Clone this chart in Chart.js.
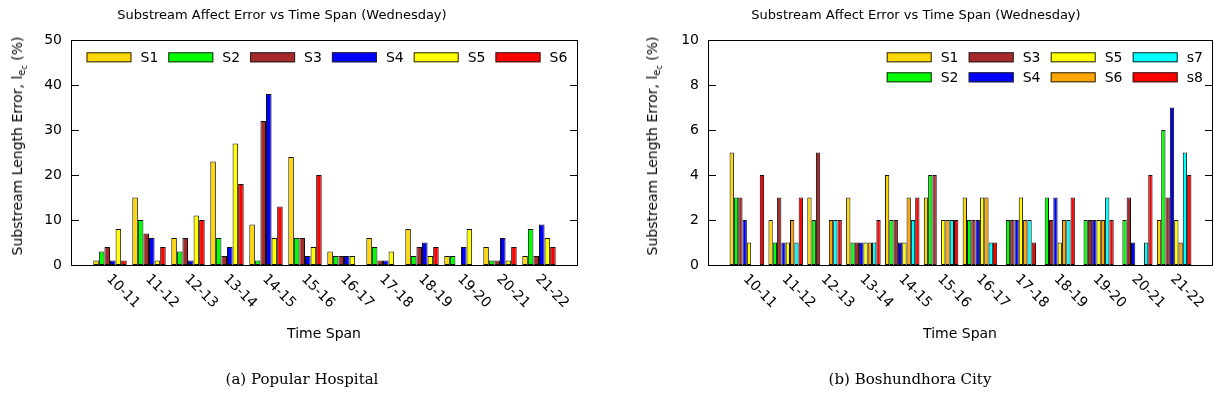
<!DOCTYPE html>
<html>
<head>
<meta charset="utf-8">
<script src="https://cdn.jsdelivr.net/npm/chart.js@4.4.1/dist/chart.umd.min.js"></script>
<style>
  html, body { margin: 0; padding: 0; background: #fff; }
  #wrap { position: relative; width: 1215px; height: 406px; overflow: hidden; background: #fff; }
  canvas { position: absolute; top: 0; }
  .t { position: absolute; white-space: nowrap; color: #000; font-family: "DejaVu Sans", sans-serif; }
  .title { font-size: 13px; transform: translate(-50%, -50%); }
  .xlab { font-size: 14px; transform: translate(-50%, -50%); }
  .ylab { font-size: 14px; transform: translate(-50%, -50%) rotate(-90deg); }
  .ylab sub { font-size: 10px; vertical-align: -3px; }
  .ylab sub sub { font-size: 8px; vertical-align: -2px; }
  .cap { font-family: "DejaVu Serif", serif; font-size: 15px; transform: translate(-50%, -50%); }
</style>
</head>
<body>
<div id="wrap">
  <canvas id="c1" width="600" height="406" style="left:0px"></canvas>
  <canvas id="c2" width="608" height="406" style="left:607px"></canvas>
  <div class="t title" style="left:282px; top:14px">Substream Affect Error vs Time Span (Wednesday)</div>
  <div class="t title" style="left:916px; top:14px">Substream Affect Error vs Time Span (Wednesday)</div>
  <div class="t ylab" style="left:19px; top:146px">Substream Length Error, l<sub>e<sub>c</sub></sub> (%)</div>
  <div class="t ylab" style="left:654px; top:146px">Substream Length Error, l<sub>e<sub>c</sub></sub> (%)</div>
  <div class="t xlab" style="left:324px; top:333px">Time Span</div>
  <div class="t xlab" style="left:960px; top:333px">Time Span</div>
  <div class="t cap" style="left:302px; top:379px">(a) Popular Hospital</div>
  <div class="t cap" style="left:910px; top:379px">(b) Boshundhora City</div>
</div>
<script>
// ---- data ----
const categories = ['10-11','11-12','12-13','13-14','14-15','15-16','16-17','17-18','18-19','19-20','20-21','21-22'];

// (a) Popular Hospital
const hospitalLabels = ['S1','S2','S3','S4','S5','S6'];
const hS1 = [1, 15, 6, 23, 9, 24, 3, 6, 8, 2, 4, 2];
const hS2 = [3, 10, 3, 6, 1, 6, 2, 4, 2, 2, 1, 8];
const hS3 = [4, 7, 6, 2, 32, 6, 2, 1, 4, 0, 1, 2];
const hS4 = [1, 6, 1, 4, 38, 2, 2, 1, 5, 4, 6, 9];
const hS5 = [8, 1, 11, 27, 6, 4, 2, 3, 2, 8, 1, 6];
const hS6 = [1, 4, 10, 18, 13, 20, 0, 0, 4, 0, 4, 4];
const hospitalTicks = [0, 10, 20, 30, 40, 50];

// (b) Boshundhora City
const cityLabels = ['S1','S2','S3','S4','S5','S6','s7','s8'];
const bS1 = [5, 2, 3, 3, 4, 3, 3, 0, 0, 0, 0, 2];
const bS2 = [3, 1, 2, 1, 2, 4, 2, 2, 3, 2, 2, 6];
const bS3 = [3, 3, 5, 1, 2, 4, 2, 2, 2, 2, 3, 3];
const bS4 = [2, 1, 0, 1, 1, 0, 2, 2, 3, 2, 1, 7];
const bS5 = [1, 1, 0, 1, 1, 2, 3, 3, 1, 2, 0, 2];
const bS6 = [0, 2, 2, 1, 3, 2, 3, 2, 2, 2, 0, 1];
const bS7 = [0, 1, 2, 1, 2, 2, 1, 2, 2, 3, 1, 5];
const bS8 = [4, 3, 2, 2, 3, 2, 1, 1, 3, 2, 4, 4];
const cityTicks = [0, 2, 4, 6, 8, 10];

// ---- styling ----
const GOLD = '#ffd700', GREEN = '#00ff00', BROWN = '#a52a2a', BLUE = '#0000ff',
      YELLOW = '#ffff00', RED = '#ff0000', ORANGE = '#ffa500', CYAN = '#00ffff';
const hospitalColors = [GOLD, GREEN, BROWN, BLUE, YELLOW, RED];
const cityColors = [GOLD, GREEN, BROWN, BLUE, YELLOW, ORANGE, CYAN, RED];

Chart.defaults.font.family = '"DejaVu Sans", sans-serif';
Chart.defaults.font.size = 14;
Chart.defaults.color = '#000';

function toPoints(arr) { return arr.map((v, i) => ({ x: i, y: v })); }

function makeDatasets(series, labels, colors) {
  return series.map((s, i) => ({
    label: labels[i],
    data: toPoints(s),
    backgroundColor: colors[i],
    borderColor: '#111',
    borderWidth: 1,
    borderSkipped: false
  }));
}

// plugin: frame, inward ticks, rotated category labels, legend inside plot
const decor = {
  id: 'decor',
  afterDatasetsDraw(chart, args, opts) {
    const ctx = chart.ctx;
    const a = chart.chartArea;
    const xs = chart.scales.x, ys = chart.scales.y;
    ctx.save();
    ctx.strokeStyle = '#000';
    ctx.lineWidth = 1;
    ctx.beginPath();
    opts.yTicks.forEach(v => {
      const y = Math.round(ys.getPixelForValue(v)) + 0.5;
      ctx.moveTo(a.left, y); ctx.lineTo(a.left + 8, y);
      ctx.moveTo(a.right, y); ctx.lineTo(a.right - 8, y);
    });
    ctx.stroke();
    ctx.strokeRect(Math.round(a.left) + 0.5, Math.round(a.top) + 0.5,
                   Math.round(a.right - a.left) - 1, Math.round(a.bottom - a.top));
    ctx.fillStyle = '#000';
    ctx.font = '14px "DejaVu Sans", sans-serif';
    ctx.textAlign = 'left';
    ctx.textBaseline = 'middle';
    categories.forEach((c, i) => {
      const px = xs.getPixelForValue(i);
      ctx.save();
      ctx.translate(px - 1.5, a.bottom + 12);
      ctx.rotate(Math.PI / 4);
      ctx.fillText(c, 0, 0);
      ctx.restore();
    });
    const L = opts.legend;
    chart.data.datasets.forEach((ds, i) => {
      const col = L.rows === 1 ? i : Math.floor(i / L.rows);
      const row = L.rows === 1 ? 0 : i % L.rows;
      const bx = a.left + L.x0 + col * L.dx;
      const by = a.top + L.y0 + row * L.dy;
      ctx.fillStyle = ds.backgroundColor;
      ctx.fillRect(bx, by, 45, 10);
      ctx.strokeStyle = '#222';
      ctx.strokeRect(bx + 0.5, by + 0.5, 44, 9);
      ctx.fillStyle = '#000';
      ctx.textAlign = 'left';
      ctx.textBaseline = 'middle';
      ctx.fillText(ds.label, bx + 54, by + 6);
    });
    ctx.restore();
  }
};

function makeChart(id, datasets, yMax, yStep, yTicks, catPct, yWidth, padRight, legend) {
  return new Chart(document.getElementById(id), {
    type: 'bar',
    data: { datasets },
    options: {
      responsive: false,
      animation: false,
      devicePixelRatio: 1,
      layout: { padding: { left: 0, top: 40, right: padRight, bottom: 141 } },
      datasets: { bar: { categoryPercentage: catPct, barPercentage: 1 } },
      scales: {
        x: {
          type: 'linear', min: -1, max: 12, display: false, offset: false,
          ticks: { stepSize: 1 }
        },
        y: {
          min: 0, max: yMax,
          ticks: { stepSize: yStep, padding: 9, font: { size: 14 }, color: '#000' },
          grid: { display: false, drawTicks: false },
          border: { display: false },
          afterFit(scale) { scale.width = yWidth; }
        }
      },
      plugins: {
        legend: { display: false },
        title: { display: false },
        tooltip: { enabled: false },
        decor: { yTicks, legend }
      }
    },
    plugins: [decor]
  });
}

makeChart('c1',
  makeDatasets([hS1, hS2, hS3, hS4, hS5, hS6], hospitalLabels, hospitalColors),
  50, 10, hospitalTicks, 6 / 7, 71, 22,
  { rows: 1, x0: 15.5, dx: 81.8, y0: 12.3, dy: 0 });

makeChart('c2',
  makeDatasets([bS1, bS2, bS3, bS4, bS5, bS6, bS7, bS8], cityLabels, cityColors),
  10, 2, cityTicks, 8 / 9, 101, 2,
  { rows: 2, x0: 178.7, dx: 82, y0: 12.3, dy: 20 });
</script>
</body>
</html>
